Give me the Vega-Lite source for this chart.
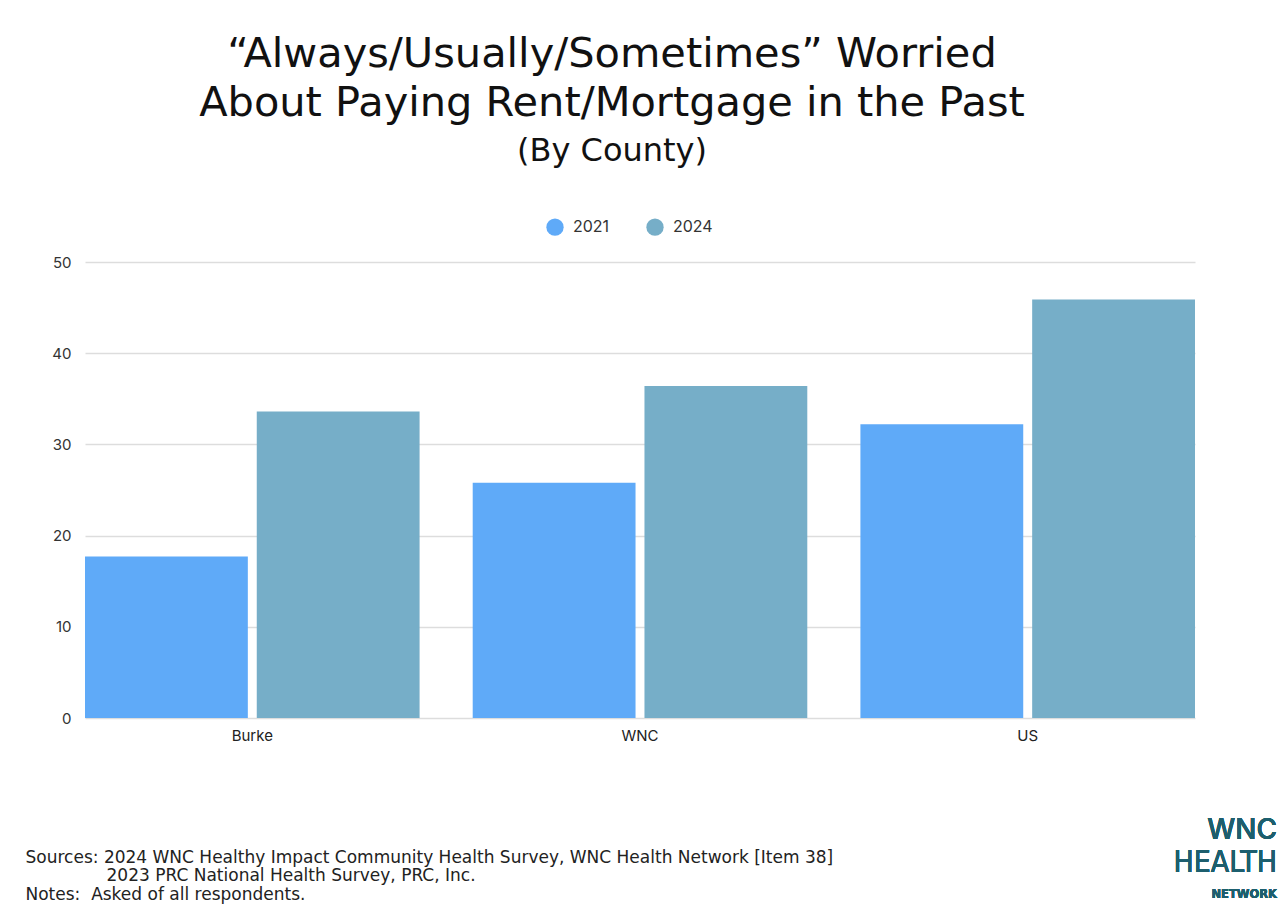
{
  "$schema": "https://vega.github.io/schema/vega-lite/v6.json",
  "width": 1110,
  "height": 456,
  "autosize": {"type": "none"},
  "padding": {"left": 85, "top": 262, "right": 90, "bottom": 187},
  "background": "white",
  "config": {
    "font": "Inter",
    "view": {"stroke": null}
  },
  "title": {
    "text": ["“Always/Usually/Sometimes” Worried", "About Paying Rent/Mortgage in the Past"],
    "subtitle": "(By County)",
    "anchor": "middle",
    "frame": "group",
    "dx": -28,
    "offset": 51,
    "font": "DejaVu Sans",
    "fontSize": 41.5,
    "fontWeight": 400,
    "lineHeight": 49,
    "color": "#111111",
    "subtitleFont": "DejaVu Sans",
    "subtitleFontSize": 32,
    "subtitleFontWeight": 400,
    "subtitleColor": "#111111",
    "subtitlePadding": 12
  },
  "data": {
    "values": [
      {"County": "Burke", "Year": "2021", "Percent": 17.7},
      {"County": "Burke", "Year": "2024", "Percent": 33.6},
      {"County": "WNC", "Year": "2021", "Percent": 25.8},
      {"County": "WNC", "Year": "2024", "Percent": 36.4},
      {"County": "US", "Year": "2021", "Percent": 32.2},
      {"County": "US", "Year": "2024", "Percent": 45.9}
    ]
  },
  "layer": [
    {
      "mark": {"type": "bar"},
      "encoding": {
        "x": {
          "field": "County",
          "type": "nominal",
          "sort": ["Burke", "WNC", "US"],
          "scale": {"paddingInner": 0.137, "paddingOuter": 0},
          "axis": {
            "domain": false,
            "ticks": false,
            "labelAngle": 0,
            "labelPadding": 10,
            "labelFontSize": 15,
            "labelColor": "#222222",
            "title": [
              "Sources: 2024 WNC Healthy Impact Community Health Survey, WNC Health Network [Item 38]",
              "\u200b\u00a0\u00a0\u00a0\u00a0\u00a0\u00a0\u00a0\u00a0\u00a0\u00a0\u00a0\u00a0\u00a0\u00a0\u00a02023 PRC National Health Survey, PRC, Inc.",
              "Notes:\u00a0 Asked of all respondents."
            ],
            "titleAnchor": "start",
            "titleAlign": "left",
            "titleBaseline": "top",
            "titleX": -60,
            "titleY": 131,
            "titleFont": "DejaVu Sans",
            "titleFontSize": 17,
            "titleFontWeight": 400,
            "titleColor": "#222222",
            "titleLineHeight": 18.5
          }
        },
        "xOffset": {
          "field": "Year",
          "type": "nominal",
          "scale": {"paddingInner": 0.052, "paddingOuter": 0}
        },
        "y": {
          "field": "Percent",
          "type": "quantitative",
          "scale": {"domain": [0, 50]},
          "axis": {
            "title": null,
            "values": [0, 10, 20, 30, 40, 50],
            "domain": false,
            "ticks": false,
            "labelPadding": 14,
            "labelFontSize": 15,
            "labelColor": "#333333",
            "gridColor": "#dddddd",
            "gridWidth": 1.5
          }
        },
        "color": {
          "field": "Year",
          "type": "nominal",
          "scale": {"domain": ["2021", "2024"], "range": ["#5FAAF8", "#76AEC8"]},
          "legend": {
            "title": null,
            "orient": "none",
            "direction": "horizontal",
            "legendX": 461,
            "legendY": -44,
            "symbolType": "circle",
            "symbolSize": 300,
            "symbolStrokeWidth": 0,
            "labelFontSize": 16,
            "labelColor": "#333333",
            "labelOffset": 9,
            "columnPadding": 36
          }
        }
      }
    },
    {
      "mark": {"type": "text", "align": "right", "baseline": "middle", "dx": 82, "font": "Inter", "fontSize": 28, "fontWeight": 500, "color": "#1d5f6e"},
      "encoding": {
        "x": {"datum": "US", "bandPosition": 1},
        "y": {"datum": -12.4},
        "text": {"value": "WNC"}
      }
    },
    {
      "mark": {"type": "text", "align": "right", "baseline": "middle", "dx": 82, "font": "DejaVu Sans Condensed", "fontSize": 30, "fontWeight": 400, "color": "#1d5f6e"},
      "encoding": {
        "x": {"datum": "US", "bandPosition": 1},
        "y": {"datum": -15.9},
        "text": {"value": "HEALTH"}
      }
    },
    {
      "mark": {"type": "text", "align": "right", "baseline": "middle", "dx": 82, "font": "DejaVu Sans", "fontSize": 11.5, "fontWeight": 700, "color": "#1d5f6e"},
      "encoding": {
        "x": {"datum": "US", "bandPosition": 1},
        "y": {"datum": -19.4},
        "text": {"value": "NETWORK"}
      }
    }
  ]
}
